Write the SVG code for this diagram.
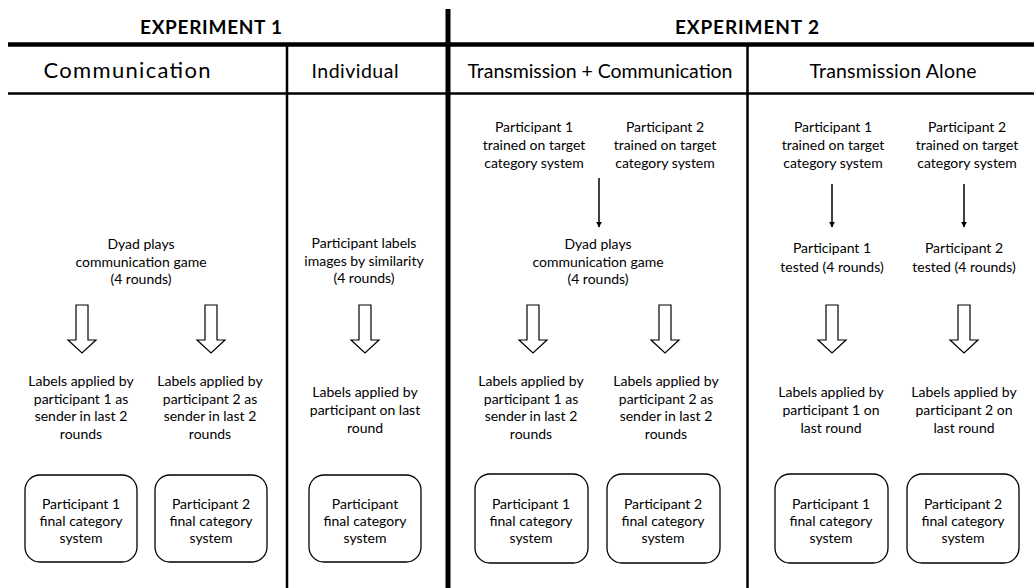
<svg xmlns="http://www.w3.org/2000/svg" width="1034" height="588" viewBox="0 0 1034 588">
<style>
text{font-family:Lato,"Open Sans","Liberation Sans",sans-serif;fill:#000;text-anchor:middle}
.h1{font-size:19px;font-weight:bold}
.h2{font-size:19.5px}
.t{font-size:14px}
.box{fill:#fff;stroke:#000;stroke-width:1.3}
.hol{fill:#fff;stroke:#000;stroke-width:1.2;stroke-linejoin:miter}
.thin{stroke:#000;stroke-width:1.5;fill:none}
</style>
<defs>
<marker id="ah" viewBox="0 0 10 10" refX="9" refY="5" markerWidth="4" markerHeight="4" orient="auto" markerUnits="strokeWidth">
<path d="M0,0 L10,5 L0,10 Z" fill="#000"/>
</marker>
<path id="hollow" d="M-6,0 H6 V35 H14 L0,48 L-14,35 H-6 Z"/>
</defs>
<g id="grid" stroke="#000" fill="none">
<line x1="8" y1="44.5" x2="1034" y2="44.5" stroke-width="4.5"/>
<line x1="8" y1="93.5" x2="1034" y2="93.5" stroke-width="2.5"/>
<line x1="448" y1="9" x2="448" y2="588" stroke-width="5"/>
<line x1="287" y1="46" x2="287" y2="588" stroke-width="2.5"/>
<line x1="747.5" y1="46" x2="747.5" y2="588" stroke-width="2.5"/>
</g>
<g id="headers">
<text class="h1" x="211" y="34" textLength="142" lengthAdjust="spacing">EXPERIMENT 1</text>
<text class="h1" x="747" y="34" textLength="144" lengthAdjust="spacing">EXPERIMENT 2</text>
<text class="h2" x="127" y="78" style="font-size:22px" textLength="167" lengthAdjust="spacing">Communication</text>
<text class="h2" x="355" y="78" textLength="87" lengthAdjust="spacing">Individual</text>
<text class="h2" x="600" y="78" textLength="265" lengthAdjust="spacing">Transmission + Communication</text>
<text class="h2" x="893" y="78" textLength="167" lengthAdjust="spacing">Transmission Alone</text>
</g>
<g id="connectors">
<use href="#hollow" x="82" y="305" class="hol"/>
<use href="#hollow" x="211" y="305" class="hol"/>
<use href="#hollow" x="365" y="305" class="hol"/>
<use href="#hollow" x="533" y="305" class="hol"/>
<use href="#hollow" x="665" y="305" class="hol"/>
<use href="#hollow" x="832" y="305" class="hol"/>
<use href="#hollow" x="964" y="305" class="hol"/>
<line class="thin" x1="599" y1="178" x2="599" y2="227" marker-end="url(#ah)"/>
<line class="thin" x1="832" y1="184" x2="832" y2="227" marker-end="url(#ah)"/>
<line class="thin" x1="964" y1="184" x2="964" y2="227" marker-end="url(#ah)"/>
</g>
<g id="c1-game"><text class="t" x="141" y="249"><tspan x="141">Dyad plays</tspan><tspan x="141" dy="17.5">communication game</tspan><tspan x="141" dy="17.5">(4 rounds)</tspan></text></g>
<g id="c1-labels1"><text class="t" x="81" y="386"><tspan x="81">Labels applied by</tspan><tspan x="81" dy="17.7">participant 1 as</tspan><tspan x="81" dy="17.7">sender in last 2</tspan><tspan x="81" dy="17.7">rounds</tspan></text></g>
<g id="c1-labels2"><text class="t" x="210" y="386"><tspan x="210">Labels applied by</tspan><tspan x="210" dy="17.7">participant 2 as</tspan><tspan x="210" dy="17.7">sender in last 2</tspan><tspan x="210" dy="17.7">rounds</tspan></text></g>
<g id="c1-box1"><rect class="box" x="25" y="475" width="112" height="87" rx="15"/><text class="t" x="81" y="509"><tspan x="81">Participant 1</tspan><tspan x="81" dy="17">final category</tspan><tspan x="81" dy="17">system</tspan></text></g>
<g id="c1-box2"><rect class="box" x="155" y="475" width="112" height="87" rx="15"/><text class="t" x="211" y="509"><tspan x="211">Participant 2</tspan><tspan x="211" dy="17">final category</tspan><tspan x="211" dy="17">system</tspan></text></g>
<g id="c2-task"><text class="t" x="364" y="248"><tspan x="364">Participant labels</tspan><tspan x="364" dy="17.5">images by similarity</tspan><tspan x="364" dy="17.5">(4 rounds)</tspan></text></g>
<g id="c2-labels"><text class="t" x="365" y="397"><tspan x="365">Labels applied by</tspan><tspan x="365" dy="18">participant on last</tspan><tspan x="365" dy="18">round</tspan></text></g>
<g id="c2-box"><rect class="box" x="309" y="475" width="112" height="87" rx="15"/><text class="t" x="365" y="509"><tspan x="365">Participant</tspan><tspan x="365" dy="17">final category</tspan><tspan x="365" dy="17">system</tspan></text></g>
<g id="c3-train1"><text class="t" x="534" y="132"><tspan x="534">Participant 1</tspan><tspan x="534" dy="18">trained on target</tspan><tspan x="534" dy="18">category system</tspan></text></g>
<g id="c3-train2"><text class="t" x="665" y="132"><tspan x="665">Participant 2</tspan><tspan x="665" dy="18">trained on target</tspan><tspan x="665" dy="18">category system</tspan></text></g>
<g id="c3-game"><text class="t" x="598" y="249"><tspan x="598">Dyad plays</tspan><tspan x="598" dy="17.5">communication game</tspan><tspan x="598" dy="17.5">(4 rounds)</tspan></text></g>
<g id="c3-labels1"><text class="t" x="531" y="386"><tspan x="531">Labels applied by</tspan><tspan x="531" dy="17.7">participant 1 as</tspan><tspan x="531" dy="17.7">sender in last 2</tspan><tspan x="531" dy="17.7">rounds</tspan></text></g>
<g id="c3-labels2"><text class="t" x="666" y="386"><tspan x="666">Labels applied by</tspan><tspan x="666" dy="17.7">participant 2 as</tspan><tspan x="666" dy="17.7">sender in last 2</tspan><tspan x="666" dy="17.7">rounds</tspan></text></g>
<g id="c3-box1"><rect class="box" x="475" y="474" width="113" height="89" rx="15"/><text class="t" x="531" y="509"><tspan x="531">Participant 1</tspan><tspan x="531" dy="17">final category</tspan><tspan x="531" dy="17">system</tspan></text></g>
<g id="c3-box2"><rect class="box" x="607" y="474" width="113" height="89" rx="15"/><text class="t" x="663" y="509"><tspan x="663">Participant 2</tspan><tspan x="663" dy="17">final category</tspan><tspan x="663" dy="17">system</tspan></text></g>
<g id="c4-train1"><text class="t" x="833" y="132"><tspan x="833">Participant 1</tspan><tspan x="833" dy="18">trained on target</tspan><tspan x="833" dy="18">category system</tspan></text></g>
<g id="c4-train2"><text class="t" x="967" y="132"><tspan x="967">Participant 2</tspan><tspan x="967" dy="18">trained on target</tspan><tspan x="967" dy="18">category system</tspan></text></g>
<g id="c4-test1"><text class="t" x="832" y="253"><tspan x="832">Participant 1</tspan><tspan x="832" dy="19">tested (4 rounds)</tspan></text></g>
<g id="c4-test2"><text class="t" x="964" y="253"><tspan x="964">Participant 2</tspan><tspan x="964" dy="19">tested (4 rounds)</tspan></text></g>
<g id="c4-labels1"><text class="t" x="831" y="397"><tspan x="831">Labels applied by</tspan><tspan x="831" dy="18">participant 1 on</tspan><tspan x="831" dy="18">last round</tspan></text></g>
<g id="c4-labels2"><text class="t" x="964" y="397"><tspan x="964">Labels applied by</tspan><tspan x="964" dy="18">participant 2 on</tspan><tspan x="964" dy="18">last round</tspan></text></g>
<g id="c4-box1"><rect class="box" x="775" y="474" width="113" height="89" rx="15"/><text class="t" x="831" y="509"><tspan x="831">Participant 1</tspan><tspan x="831" dy="17">final category</tspan><tspan x="831" dy="17">system</tspan></text></g>
<g id="c4-box2"><rect class="box" x="907" y="474" width="112" height="89" rx="15"/><text class="t" x="963" y="509"><tspan x="963">Participant 2</tspan><tspan x="963" dy="17">final category</tspan><tspan x="963" dy="17">system</tspan></text></g>
</svg>
